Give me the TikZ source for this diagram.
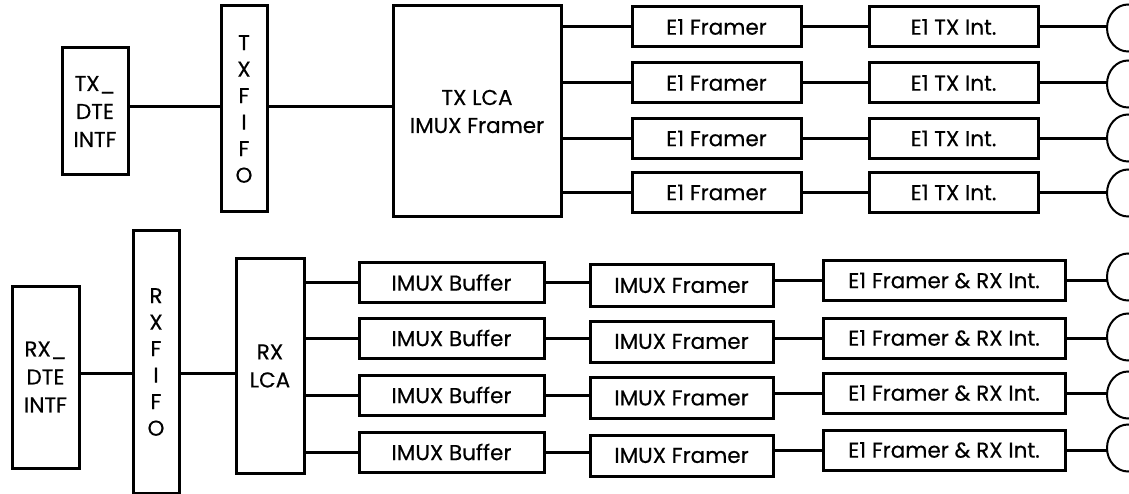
\documentclass[tikz,border=0pt]{standalone}
\usepackage{fontspec}
\setmainfont{Poppins}[FakeBold=0.4]
\usetikzlibrary{shapes.geometric}
\begin{document}
\begin{tikzpicture}[x=1pt,y=-1pt,
  every node/.style={inner sep=0pt,outer sep=0pt,font=\fontsize{21.5}{28}\selectfont},
  blk/.style={draw,line width=3pt,rectangle,align=center},
  fifo/.style={blk,font=\fontsize{21.5}{26.5}\selectfont},
  conn/.style={draw,line width=2pt,ellipse,minimum width=42pt,minimum height=47pt},
  wire/.style={line width=3pt}]
\useasboundingbox (0,0) rectangle (1129,494);
% ---- TX side ----
\node[blk,minimum width=66pt,minimum height=127pt] (txdte) at (95,111.5) {TX\_\\DTE\\INTF};
\node[fifo,minimum width=46pt,minimum height=206pt] (txfifo) at (244,109) {T\\X\\F\\I\\F\\O};
\node[blk,minimum width=168pt,minimum height=211pt] (txlca) at (477,111.5) {TX LCA\\IMUX Framer};
\coordinate (txw) at (0,107);
\foreach \i/\y/\e in {1/27/28,2/83/84,3/138.5/138,4/192.5/193}{
  \node[blk,minimum width=169pt,minimum height=40pt] (ef\i) at (716.5,\y) {E1 Framer};
  \node[blk,minimum width=169pt,minimum height=40pt] (et\i) at (953.5,\y) {E1 TX Int.};
  \node[conn] (te\i) at (1128,\e) {};
}
\draw[wire] (txdte.east |- txw) -- (txfifo.west |- txw);
\draw[wire] (txfifo.east |- txw) -- (txlca.west |- txw);
\foreach \i in {1,...,4}{
  \draw[wire] (txlca.east |- ef\i) -- (ef\i);
  \draw[wire] (ef\i) -- (et\i);
  \draw[wire] (et\i) -- (et\i -| te\i.west);
}
% ---- RX side ----
\node[blk,minimum width=67pt,minimum height=182pt] (rxdte) at (45.5,377) {RX\_\\DTE\\INTF};
\node[fifo,minimum width=46pt,minimum height=262pt] (rxfifo) at (156,362) {R\\X\\F\\I\\F\\O};
\node[blk,minimum width=68pt,minimum height=214pt] (rxlca) at (270,366) {RX\\LCA};
\coordinate (rxw) at (0,373);
\foreach \i/\yb/\yf/\yr/\e in {1/282.5/285.5/280.5/277,2/338/341.5/338/337,3/395/398/393/395,4/452/455.5/450/448}{
  \node[blk,minimum width=185pt,minimum height=40pt] (ib\i) at (451.5,\yb) {IMUX Buffer};
  \node[blk,minimum width=183pt,minimum height=41pt] (if\i) at (681.5,\yf) {IMUX Framer};
  \node[blk,minimum width=242pt,minimum height=40pt] (er\i) at (944,\yr) {E1 Framer \& RX Int.};
  \node[conn] (re\i) at (1128,\e) {};
}
\draw[wire] (rxdte.east |- rxw) -- (rxfifo.west |- rxw);
\draw[wire] (rxfifo.east |- rxw) -- (rxlca.west |- rxw);
\foreach \i in {1,...,4}{
  \draw[wire] (rxlca.east |- ib\i) -- (ib\i);
  \draw[wire] (ib\i) -- (ib\i -| if\i.west);
  \draw[wire] (er\i -| if\i.east) -- (er\i);
  \draw[wire] (er\i) -- (er\i -| re\i.west);
}
\end{tikzpicture}
\end{document}
